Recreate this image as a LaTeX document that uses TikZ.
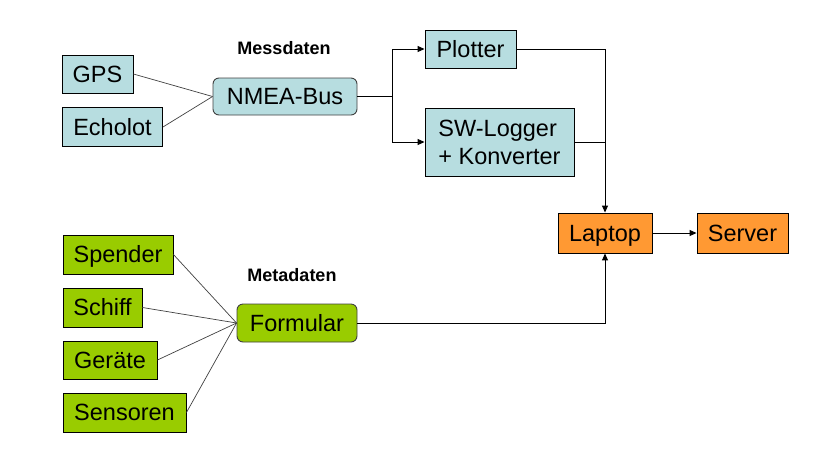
\documentclass[tikz,border=0pt]{standalone}
\usepackage{fontspec}
\setmainfont{Liberation Sans}
\usetikzlibrary{arrows.meta}
\definecolor{lblue}{HTML}{B7DDE0}
\definecolor{lgreen}{HTML}{99CC00}
\definecolor{lorange}{HTML}{FF9933}
\tikzset{
  box/.style={draw=black, line width=0.9pt, inner sep=0pt,
    font=\fontsize{23.5}{28}\selectfont, text height=16.9pt, text depth=0pt},
  bluebox/.style={box, fill=lblue},
  greenbox/.style={box, fill=lgreen},
  orangebox/.style={box, fill=lorange},
  roundbox/.style={rounded corners=6pt, draw=black!75},
  title/.style={font=\fontsize{18}{20}\selectfont\bfseries},
  thin/.style={draw=black!75, line width=0.7pt},
  conn/.style={draw=black, line width=1pt},
  arr/.style={conn, -{Triangle[length=7pt,width=6pt]}}
}
\begin{document}
\begin{tikzpicture}[x=1pt,y=-1pt]
\useasboundingbox (0,0) rectangle (830,467);
% Messdaten group
\node[bluebox, minimum width=71pt, minimum height=38pt] (gps) at (97.5,74) {GPS};
\node[bluebox, minimum width=100pt, minimum height=39pt] (echo) at (112.5,127) {Echolot};
\node[bluebox, roundbox, minimum width=144pt, minimum height=37pt] (nmea) at (285,96.5) {NMEA-Bus};
\node[title] (mess) at (284,48) {Messdaten};
\node[bluebox, minimum width=91pt, minimum height=38pt] (plot) at (470.5,49) {Plotter};
\node[bluebox, minimum width=149pt, minimum height=68pt, align=left, text height=, text depth=] (sw) at (499.5,142) {SW-Logger\\+ Konverter};
% Metadaten group
\node[greenbox, minimum width=110pt, minimum height=39pt] (spender) at (118,254.5) {Spender};
\node[greenbox, minimum width=79pt, minimum height=39pt] (schiff) at (102.5,307.5) {Schiff};
\node[greenbox, minimum width=94pt, minimum height=38pt] (geraete) at (110,360) {Geräte};
\node[greenbox, minimum width=123pt, minimum height=39pt] (sensoren) at (124.5,412.5) {Sensoren};
\node[greenbox, roundbox, minimum width=120pt, minimum height=38pt] (form) at (297,323) {Formular};
\node[title] (meta) at (292,275) {Metadaten};
% Orange
\node[orangebox, minimum width=94pt, minimum height=40pt] (laptop) at (605,233) {Laptop};
\node[orangebox, minimum width=91pt, minimum height=40pt] (server) at (742.5,233) {Server};
% connectors
\draw[thin] (gps.east) -- (nmea.west);
\draw[thin] (echo.east) -- (nmea.west);
\draw[thin] (spender.east) -- (form.west);
\draw[thin] (schiff.east) -- (form.west);
\draw[thin] (geraete.east) -- (form.west);
\draw[thin] (sensoren.east) -- (form.west);
\coordinate (br) at (392,96.5);
\draw[conn] (nmea.east) -- (br);
\draw[arr] (br) |- (plot.west);
\draw[arr] (br) |- (sw.west);
\draw[arr] (plot.east) -| (laptop.north);
\coordinate (jn) at (laptop.north |- sw.east);
\draw[conn] (sw.east) -- (jn);
\draw[arr] (form.east) -| (laptop.south);
\draw[arr] (laptop.east) -- (server.west);
\end{tikzpicture}
\end{document}
